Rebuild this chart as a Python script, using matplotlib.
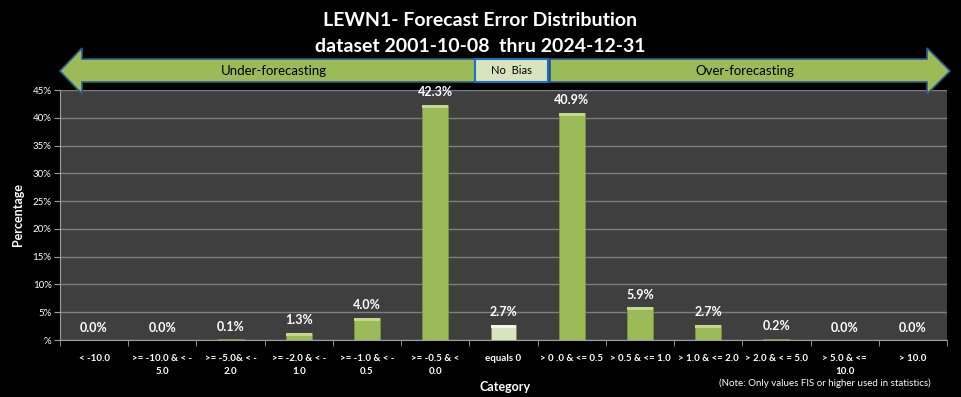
import matplotlib
matplotlib.use("Agg")
import matplotlib.pyplot as plt
from matplotlib.patches import Polygon, Rectangle

categories = [
    "< -10.0", ">= -10.0 & < -\n5.0", ">= -5.0& < -\n2.0", ">= -2.0 & < -\n1.0",
    ">= -1.0 & < -\n0.5", ">= -0.5 & <\n0.0", "equals 0", "> 0 .0 & <= 0.5",
    "> 0.5 & <= 1.0", "> 1.0 & <= 2.0", "> 2.0 & < = 5.0", "> 5.0 & <=\n10.0", "> 10.0",
]
percent = [0.0, 0.0, 0.1, 1.3, 4.0, 42.3, 2.7, 40.9, 5.9, 2.7, 0.2, 0.0, 0.0]
yticks = [0, 5, 10, 15, 20, 25, 30, 35, 40, 45]
ytick_labels = ["%"] + ["%d%%" % t for t in yticks[1:]]

W, H = 961, 397
GREEN = "#9bbb59"
font = ["Lato", "DejaVu Sans"]
plt.rcParams["font.family"] = font

fig = plt.figure(figsize=(W / 100, H / 100), dpi=100, facecolor="black")
ax = fig.add_axes([60 / W, 1 - 340 / H, 887 / W, 250 / H])
ax.set_facecolor("#3f3f3f")

x = list(range(len(categories)))
colors = [GREEN] * len(categories)
colors[6] = "#d8e4bc"
bars = ax.bar(x, percent, width=0.38, color=colors, edgecolor="#7a9440", linewidth=0.6, zorder=3)
# light bevel on top of each bar
for b, c in zip(bars, colors):
    if b.get_height() > 0.3:
        ax.add_patch(Rectangle((b.get_x(), b.get_height() - 0.5), b.get_width(), 0.5,
                               facecolor="#c4d98f" if c == GREEN else "#f2f6e8",
                               edgecolor="none", zorder=4))

for xi, v in zip(x, percent):
    ax.annotate("%.1f%%" % v, (xi, v), xytext=(0, 9), textcoords="offset points",
                ha="center", va="center", color="white", fontsize=9, fontweight="bold")

ax.set_xlim(-0.5, len(categories) - 0.5)
ax.set_ylim(0, 45)
ax.set_yticks(yticks)
ax.set_yticklabels(ytick_labels, color="white", fontsize=7)
ax.yaxis.grid(True, color="#7f7f7f", linewidth=1, zorder=0)
ax.set_xticks(x)
ax.set_xticklabels(categories, color="white", fontsize=7, fontweight="bold", linespacing=1.6)
ax.set_xticks([i + 0.5 for i in range(-1, len(categories))], minor=True)
ax.tick_params(axis="x", which="major", length=0, pad=10)
ax.tick_params(axis="x", which="minor", length=4, color="#a0a0a0")
ax.tick_params(axis="y", length=4, color="#a0a0a0", pad=2)
for s in ["top", "right"]:
    ax.spines[s].set_visible(False)
for s in ["left", "bottom"]:
    ax.spines[s].set_color("#a0a0a0")

ax.set_xlabel("Category", color="white", fontsize=9, fontweight="bold", labelpad=2)
ax.xaxis.set_label_coords(505 / 887 - 60 / 887, -0.165)
ax.set_ylabel("Percentage", color="white", fontsize=9, fontweight="bold", labelpad=6)

fig.text(0.5, 1 - 20 / H, "LEWN1- Forecast Error Distribution", ha="center", va="center",
         color="white", fontsize=14, fontweight="bold")
fig.text(0.5, 1 - 46 / H, "dataset 2001-10-08  thru 2024-12-31", ha="center", va="center",
         color="white", fontsize=14, fontweight="bold")
fig.text(825 / W, 1 - 383 / H, "(Note: Only values FIS or higher used in statistics)",
         ha="center", va="center", color="white", fontsize=7)

def px(pts):
    return [(a / W, 1 - b / H) for a, b in pts]

left_arrow = px([(60, 71), (82, 48), (82, 59), (475, 59), (475, 82), (82, 82), (82, 94)])
right_arrow = px([(550, 59), (927, 59), (927, 48), (950, 71), (927, 94), (927, 82), (550, 82)])
for pts in (left_arrow, right_arrow):
    fig.patches.append(Polygon(pts, closed=True, transform=fig.transFigure,
                               facecolor=GREEN, edgecolor="#2e5a88", linewidth=1.2))
fig.patches.append(Rectangle((475 / W, 1 - 82 / H), 73 / W, 23 / H, transform=fig.transFigure,
                             facecolor="#d8e4bc", edgecolor="#1f6fbf", linewidth=1.5))
fig.text(274 / W, 1 - 71 / H, "Under-forecasting", ha="center", va="center", color="black", fontsize=9.5)
fig.text(511 / W, 1 - 71 / H, "No  Bias", ha="center", va="center", color="black", fontsize=8)
fig.text(745 / W, 1 - 71 / H, "Over-forecasting", ha="center", va="center", color="black", fontsize=9.5)

fig.savefig("out.png", dpi=100, facecolor="black")
